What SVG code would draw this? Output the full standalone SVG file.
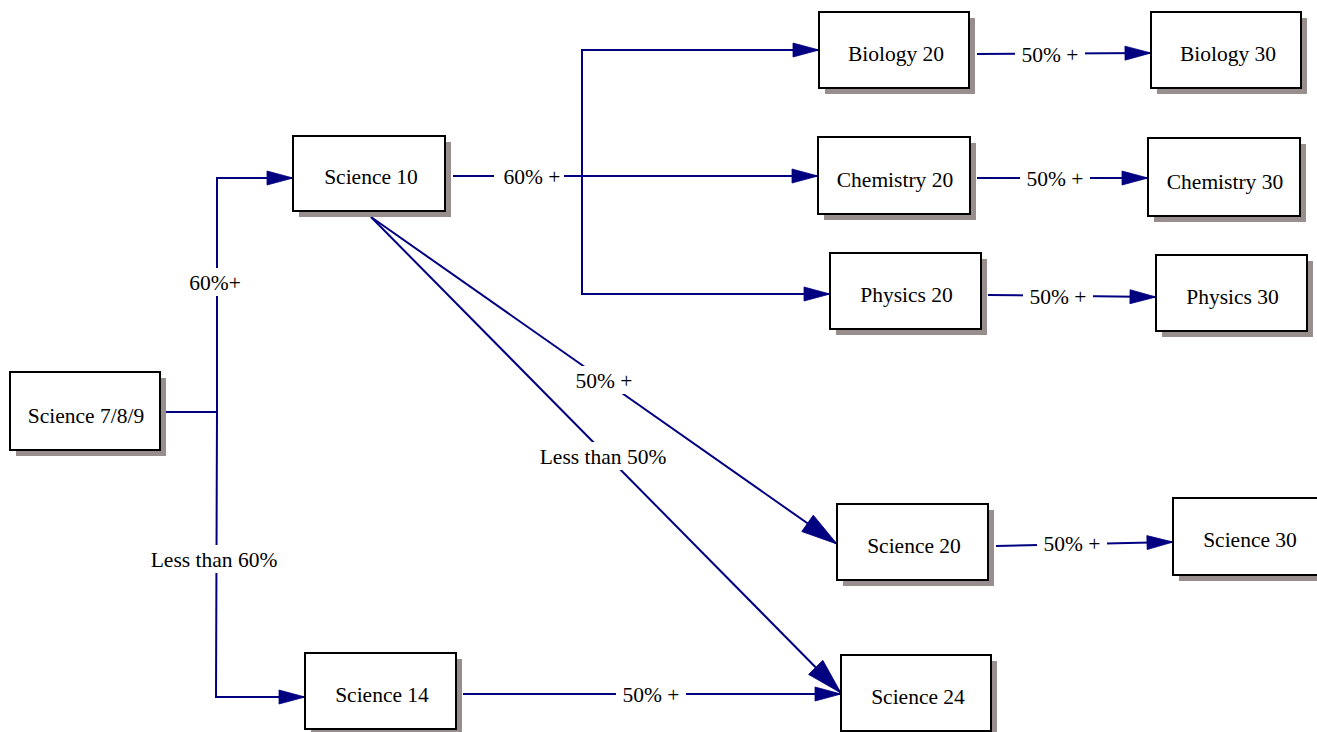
<svg xmlns="http://www.w3.org/2000/svg" width="1317" height="732" viewBox="0 0 1317 732">
<style>
.box{fill:#ffffff;stroke:#000000;stroke-width:2}
.shadow{fill:#988e8e;stroke:none}
.nt,.lt{font-family:'Liberation Serif','Times New Roman',Times,Tinos,'DejaVu Serif','Noto Serif',serif;font-size:21.5px;fill:#000000;text-anchor:middle}
.lbg{fill:#ffffff;stroke:none}
.e{fill:none;stroke:#000080;stroke-width:2}
.es{marker-end:url(#arrS)}
.eb{marker-end:url(#arrB)}
</style>
<defs>
<marker id="arrS" markerUnits="userSpaceOnUse" markerWidth="28" markerHeight="16" refX="26" refY="7" orient="auto" viewBox="0 0 28 14" overflow="visible">
<path d="M0,0 L26,7 L0,14 Z" fill="#000080" stroke="#000080" stroke-width="0.8"/>
</marker>
<marker id="arrB" markerUnits="userSpaceOnUse" markerWidth="38" markerHeight="22" refX="36" refY="10" orient="auto" viewBox="0 0 38 20" overflow="visible">
<path d="M0,0 L36,10 L0,20 Z" fill="#000080" stroke="#000080" stroke-width="0.8"/>
</marker>
</defs>
<rect width="1317" height="732" fill="#ffffff"/>

<g id="connectors">
<path class="e es" d="M159,412 H217 V178 H293"/>
<path class="e es" d="M217,412 L216,697 H305"/>
<path class="e es" d="M453,176 H818"/>
<path class="e es" d="M582,176 V50 H819"/>
<path class="e es" d="M582,176 V294 H830"/>
<path class="e es" d="M977,54 L1151,53"/>
<path class="e es" d="M977,178 L1148,178"/>
<path class="e es" d="M988,295 L1156,297"/>
<path class="e es" d="M996,546 L1173,542"/>
<path class="e es" d="M463,694 L841,694"/>
<path class="e eb" d="M371,217 L837,544"/>
<path class="e eb" d="M371,217 L841,693"/>

<g id="labels">
<rect class="lbg" x="186" y="268" width="58" height="28"/>
<text class="lt" x="215" y="289.5">60%+</text>
<rect class="lbg" x="146" y="545" width="136" height="28"/>
<text class="lt" x="214" y="566.5">Less than 60%</text>
<rect class="lbg" x="494" y="163" width="70" height="27"/>
<text class="lt" x="532" y="183.5">60% +</text>
<rect class="lbg" x="1015" y="41" width="70" height="27"/>
<text class="lt" x="1050" y="61.5">50% +</text>
<rect class="lbg" x="1020" y="165" width="70" height="27"/>
<text class="lt" x="1055" y="186">50% +</text>
<rect class="lbg" x="1023" y="283" width="70" height="27"/>
<text class="lt" x="1058" y="304">50% +</text>
<rect class="lbg" x="1037" y="530" width="70" height="27"/>
<text class="lt" x="1072" y="550.5">50% +</text>
<rect class="lbg" x="616" y="681" width="70" height="27"/>
<text class="lt" x="651" y="701.5">50% +</text>
<rect class="lbg" x="569" y="366" width="70" height="28"/>
<text class="lt" x="604" y="387.5">50% +</text>
<rect class="lbg" x="536" y="442" width="134" height="28"/>
<text class="lt" x="603" y="463.5">Less than 50%</text>
</g>
</g>

<g id="science789">
<rect class="shadow" x="16" y="378" width="150" height="78"/>
<rect class="box" x="10" y="372" width="150" height="78"/>
<text class="nt" x="86" y="422.5">Science 7/8/9</text>
</g>
<g id="science10">
<rect class="shadow" x="299" y="142" width="152" height="75"/>
<rect class="box" x="293" y="136" width="152" height="75"/>
<text class="nt" x="371" y="183.5">Science 10</text>
</g>
<g id="biology20">
<rect class="shadow" x="825" y="18" width="150" height="76"/>
<rect class="box" x="819" y="12" width="150" height="76"/>
<text class="nt" x="896" y="61">Biology 20</text>
</g>
<g id="biology30">
<rect class="shadow" x="1157" y="18" width="150" height="76"/>
<rect class="box" x="1151" y="12" width="150" height="76"/>
<text class="nt" x="1228" y="61">Biology 30</text>
</g>
<g id="chemistry20">
<rect class="shadow" x="824" y="143" width="152" height="77"/>
<rect class="box" x="818" y="137" width="152" height="77"/>
<text class="nt" x="895" y="187">Chemistry 20</text>
</g>
<g id="chemistry30">
<rect class="shadow" x="1154" y="144" width="152" height="78"/>
<rect class="box" x="1148" y="138" width="152" height="78"/>
<text class="nt" x="1225" y="188.5">Chemistry 30</text>
</g>
<g id="physics20">
<rect class="shadow" x="836" y="259" width="151" height="76"/>
<rect class="box" x="830" y="253" width="151" height="76"/>
<text class="nt" x="906.5" y="302">Physics 20</text>
</g>
<g id="physics30">
<rect class="shadow" x="1162" y="261" width="151" height="76"/>
<rect class="box" x="1156" y="255" width="151" height="76"/>
<text class="nt" x="1232.5" y="304">Physics 30</text>
</g>
<g id="science20">
<rect class="shadow" x="843" y="510" width="151" height="76"/>
<rect class="box" x="837" y="504" width="151" height="76"/>
<text class="nt" x="914" y="553">Science 20</text>
</g>
<g id="science30">
<rect class="shadow" x="1179" y="504" width="150" height="77"/>
<rect class="box" x="1173" y="498" width="150" height="77"/>
<text class="nt" x="1250" y="547">Science 30</text>
</g>
<g id="science14">
<rect class="shadow" x="311" y="659" width="151" height="76"/>
<rect class="box" x="305" y="653" width="151" height="76"/>
<text class="nt" x="382" y="702">Science 14</text>
</g>
<g id="science24">
<rect class="shadow" x="847" y="661" width="150" height="76"/>
<rect class="box" x="841" y="655" width="150" height="76"/>
<text class="nt" x="918" y="704">Science 24</text>
</g>
</svg>
